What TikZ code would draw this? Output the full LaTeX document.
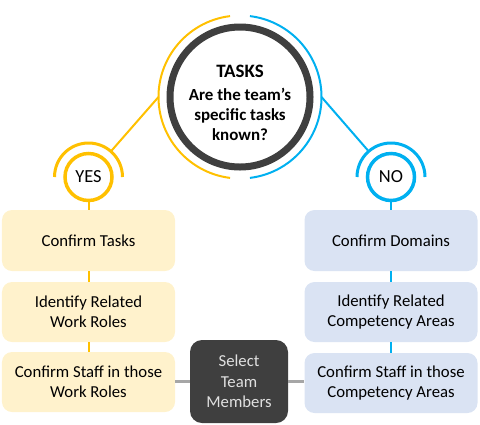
\documentclass[tikz,border=0pt]{standalone}
\usepackage{fontspec}
\setmainfont{Carlito}
\usepackage{tikz}

\definecolor{taskgold}{HTML}{FFC000}
\definecolor{taskblue}{HTML}{00B0F0}
\definecolor{yesfill}{HTML}{FFF2CC}
\definecolor{nofill}{HTML}{DAE3F3}
\definecolor{darkgrey}{HTML}{3F3F3F}
\definecolor{linegrey}{HTML}{A6A6A6}

\tikzset{
  stepbox/.style={rectangle, rounded corners=10bp, minimum width=173bp,
    minimum height=60bp, align=center, font=\fontsize{16.8}{20.5}\selectfont},
  yesbox/.style={stepbox, fill=yesfill},
  nobox/.style={stepbox, fill=nofill},
  answer/.style={circle, draw, line width=3.5bp, minimum size=47bp, inner sep=0pt,
    font=\fontsize{18.5}{22}\selectfont},
  halo/.style={circle, minimum size=70bp, inner sep=0pt},
}

\begin{document}
\begin{tikzpicture}[x=1bp, y=-1bp]
            \useasboundingbox (0,0) rectangle (480,424);
            %\draw (0,0) rectangle (480,424);

            % question circle
            \node[circle, draw=darkgrey, line width=7bp, minimum size=140bp] (tasks) at (240,97) {};
            \draw[taskgold, line width=2bp] ([shift={(97:81.5bp)}]tasks.center) arc[start angle=97, end angle=263, radius=81.5bp];
            \draw[taskblue, line width=2bp] ([shift={(-83:81.5bp)}]tasks.center) arc[start angle=-83, end angle=83, radius=81.5bp];
            \node[anchor=base, font=\bfseries\fontsize{19}{22}\selectfont] (title) at (240,77) {TASKS};
            \node[align=center, font=\bfseries\fontsize{17}{20}\selectfont] (question) at (240,114) {Are the team’s\\specific tasks\\known?};
            \coordinate (leftjoin) at ([shift={(180:81.5bp)}]tasks.center);
            \coordinate (rightjoin) at ([shift={(0:81.5bp)}]tasks.center);

            % answers
            \node[answer, draw=taskgold] (yes) at (88.5,177) {YES};
            \node[halo] (yesouter) at (88.5,177) {};
            \draw[taskgold, line width=3bp] ([shift={(180:34bp)}]yes.center) arc[start angle=180, end angle=0, radius=34bp];
            \node[answer, draw=taskblue] (no) at (391,177) {NO};
            \node[halo] (noouter) at (391,177) {};
            \draw[taskblue, line width=3bp] ([shift={(180:34bp)}]no.center) arc[start angle=180, end angle=0, radius=34bp];
            \draw[taskgold, line width=2bp] (leftjoin) -- (yesouter);
            \draw[taskblue, line width=2bp] (rightjoin) -- (noouter);

            % yes column
            \node[yesbox, minimum height=61bp] (yes1) at (88.5,240.5) {Confirm Tasks};
            \node[yesbox] (yes2) at (88.5,312) {Identify Related\\Work Roles};
            \node[yesbox] (yes3) at (88.5,382) {Confirm Staff in those\\Work Roles};

            % no column
            \node[nobox, minimum height=61bp] (no1) at (391,240.5) {Confirm Domains};
            \node[nobox] (no2) at (391,312) {Identify Related\\Competency Areas};
            \node[nobox] (no3) at (391,383) {Confirm Staff in those\\Competency Areas};

            \draw[taskgold, line width=2bp] (yes) -- (yes1);
            \draw[taskgold, line width=2bp] (yes1) -- (yes2);
            \draw[taskgold, line width=2bp] (yes2) -- (yes3);
            \draw[taskblue, line width=2bp] (no) -- (no1);
            \draw[taskblue, line width=2bp] (no1) -- (no2);
            \draw[taskblue, line width=2bp] (no2) -- (no3);

            % team
            \node[rectangle, rounded corners=12bp, fill=darkgrey, text=white!88!black,
              minimum width=98bp, minimum height=83bp, align=center,
              font=\fontsize{16.8}{20.5}\selectfont] (select) at (239,381.5) {Select\\Team\\Members};
            \draw[linegrey, line width=2.5bp] (yes3.east |- select.west) -- (select.west);
            \draw[linegrey, line width=2.5bp] (select.east) -- (no3.west |- select.east);

            \end{tikzpicture}
\end{document}
